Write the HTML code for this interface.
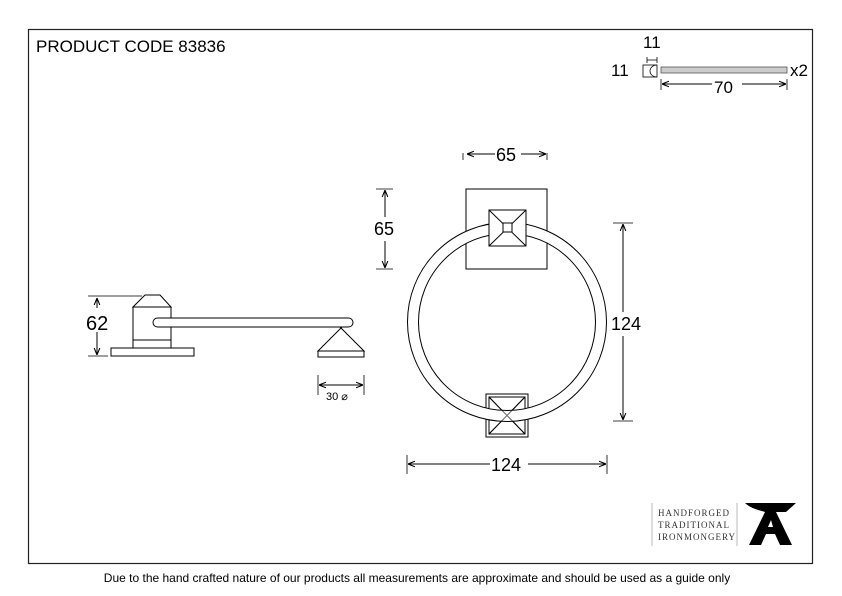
<!DOCTYPE html>
<html><head><style>body{margin:0;background:#fff}svg{display:block}text{font-family:"Liberation Sans",sans-serif}</style></head><body>
<svg width="842" height="596" viewBox="0 0 842 596" xmlns="http://www.w3.org/2000/svg">
<defs><marker id="a" viewBox="0 0 10 10" refX="10" refY="5" markerWidth="7" markerHeight="7" orient="auto-start-reverse"><path d="M0,1L10,5L0,9" fill="none" stroke="#000" stroke-width="1.5"/></marker></defs>
<rect x="28.5" y="29.5" width="784" height="534" fill="none" stroke="#222" stroke-width="1.2"/>
<text x="36" y="52" font-size="17">PRODUCT CODE 83836</text>
<!-- screw -->
<text x="643" y="48" font-size="17">11</text>
<text x="611" y="76" font-size="17">11</text>
<path d="M647,60H657M647,57V63M657,57V63" stroke="#000" fill="none" stroke-width="0.8"/>
<rect x="643" y="65" width="14" height="12" fill="none" stroke="#000" stroke-width="0.8"/>
<path d="M657,65A7,6 0 0 0 657,77" fill="none" stroke="#000" stroke-width="0.8"/>
<rect x="661" y="67" width="126" height="6" fill="#ccc" stroke="#555" stroke-width="0.8"/>
<text x="790" y="76" font-size="17">x2</text>
<line x1="662" y1="84" x2="786" y2="84" stroke="#000" marker-start="url(#a)" marker-end="url(#a)"/>
<path d="M661,79V90M787,79V90" stroke="#000" stroke-width="0.8"/>
<rect x="712" y="76" width="30" height="18" fill="#fff"/>
<text x="714" y="93" font-size="17">70</text>
<!-- side view -->
<g fill="#fff" stroke="#000" stroke-width="1">
<rect x="111" y="348" width="83" height="8"/>
<rect x="133" y="340" width="38" height="8"/>
<rect x="133" y="307" width="38" height="33"/>
<path d="M133,307L145,295H160L171,307Z"/>
<rect x="153" y="318" width="200" height="9" rx="4.5"/>
<path d="M340,327L364,351H318L342,327Z"/>
<rect x="318" y="351" width="46" height="6"/>
</g>
<path d="M88,296H142M88,356H108" stroke="#000" stroke-width="0.8"/>
<line x1="97" y1="298" x2="97" y2="355" stroke="#000" marker-start="url(#a)" marker-end="url(#a)"/>
<rect x="86" y="308" width="26" height="24" fill="#fff"/>
<text x="86" y="330" font-size="20">62</text>
<path d="M318,375V395M364,375V395" stroke="#000" stroke-width="0.8"/>
<line x1="319" y1="385" x2="363" y2="385" stroke="#000" marker-start="url(#a)" marker-end="url(#a)"/>
<text x="326" y="400" font-size="11">30  ⌀</text>
<!-- front -->
<rect x="466" y="189" width="81" height="80" fill="#fff" stroke="#000"/>
<g fill="#fff" stroke="#000" stroke-width="1">
<rect x="486" y="394" width="42" height="43"/>
<rect x="489" y="397" width="36" height="37"/>
<path d="M489,397L525,434M525,397L489,434"/>
</g>
<circle cx="507" cy="322" r="94" fill="none" stroke="#000" stroke-width="12"/>
<circle cx="507" cy="322" r="94" fill="none" stroke="#fff" stroke-width="10"/>
<g fill="none" stroke="#000" stroke-width="1">
<path d="M489,397L525,434M525,397L489,434" opacity="0.6"/>
</g>
<g fill="#fff" stroke="#000" stroke-width="1">
<rect x="489" y="210" width="37" height="36"/>
<path d="M489,210L526,246M526,210L489,246"/>
<rect x="503" y="223" width="9" height="9"/>
</g>
<path d="M463,153V160M547,153V160" stroke="#000" stroke-width="0.8"/>
<line x1="467" y1="154" x2="546" y2="154" stroke="#000" marker-start="url(#a)" marker-end="url(#a)"/>
<rect x="495" y="144" width="26" height="20" fill="#fff"/>
<text x="496" y="161" font-size="18">65</text>
<path d="M376,189H393M376,269H393" stroke="#000" stroke-width="0.8"/>
<line x1="385" y1="190" x2="385" y2="268" stroke="#000" marker-start="url(#a)" marker-end="url(#a)"/>
<rect x="373" y="217" width="26" height="24" fill="#fff"/>
<text x="374" y="235" font-size="18">65</text>
<path d="M613,223H633M613,421H633" stroke="#000" stroke-width="0.8"/>
<line x1="623" y1="224" x2="623" y2="420" stroke="#000" marker-start="url(#a)" marker-end="url(#a)"/>
<rect x="611" y="312" width="36" height="24" fill="#fff"/>
<text x="611" y="330" font-size="18">124</text>
<path d="M407,455V474M607,455V474" stroke="#000" stroke-width="0.8"/>
<line x1="408" y1="464" x2="606" y2="464" stroke="#000" marker-start="url(#a)" marker-end="url(#a)"/>
<rect x="490" y="454" width="38" height="22" fill="#fff"/>
<text x="491" y="471" font-size="18">124</text>
<!-- logo -->
<line x1="652" y1="503" x2="652" y2="546" stroke="#bbb"/>
<line x1="737" y1="503" x2="737" y2="546" stroke="#bbb"/>
<g style="font-family:'Liberation Serif',serif" font-size="9" fill="#333" letter-spacing="1">
<text x="658" y="516" style="font-family:'Liberation Serif',serif">HANDFORGED</text><text x="658" y="528" style="font-family:'Liberation Serif',serif">TRADITIONAL</text><text x="658" y="540" style="font-family:'Liberation Serif',serif">IRONMONGERY</text></g>
<path d="M745,503H796L786,512H776L792,545H780L775,534H766L761,545H749L765,512C758,510 750,508 745,503Z M768,527H773L771,520Z" fill="#000" fill-rule="evenodd"/>
<text x="417" y="582" font-size="12" text-anchor="middle">Due to the hand crafted nature of our products all measurements are approximate and should be used as a guide only</text>
</svg>
</body></html>
